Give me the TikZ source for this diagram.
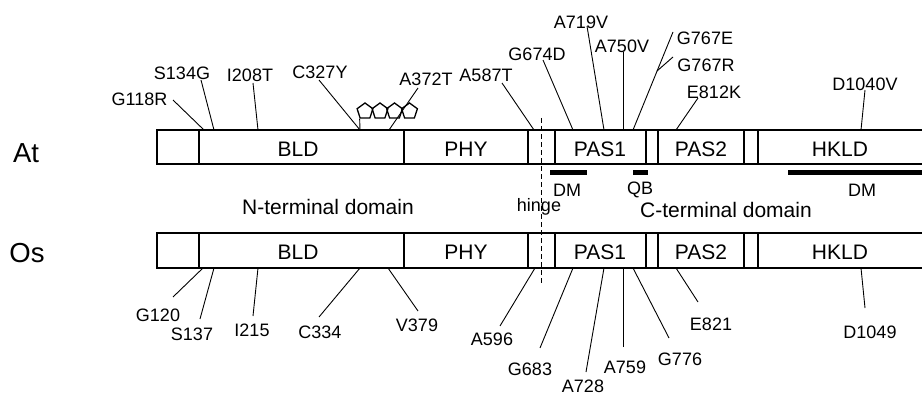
\documentclass[tikz,border=0pt]{standalone}
\usepackage{fontspec}
\setmainfont{Liberation Sans}
\usetikzlibrary{shapes.geometric}
\begin{document}
\begin{tikzpicture}[x=1pt,y=-1pt,
  barline/.style={line width=1.3pt},
  mut/.style={line width=0.9pt},
  lab/.style={font=\fontsize{18}{20}\selectfont, inner sep=0pt},
  dom/.style={font=\fontsize{21}{23}\selectfont, inner sep=0pt},
  sp/.style={font=\fontsize{27.5}{30}\selectfont, inner sep=0pt},
  dmbar/.style={line width=5pt},
  pent/.style={draw, regular polygon, regular polygon sides=5, minimum size=16.6pt, inner sep=0pt, line width=1.3pt}]
\useasboundingbox (0,0) rectangle (922,396);

% bars
\foreach \t/\b in {130/164, 233/268} {
  \draw[barline] (935,\t) -- (157,\t) -- (157,\b) -- (935,\b);
  \foreach \x in {199,404,528,555,646,658,744,758} \draw[barline] (\x,\t) -- (\x,\b);
}

% species
\node[sp] (at) at (26,153) {At};
\node[sp] (os) at (27,253) {Os};

% domain names
\foreach \n/\x/\t in {BLD/298/BLD, PHY/466/PHY, PASa/600/PAS1, PASb/701/PAS2, HKLD/840/HKLD} {
  \node[dom] (at\n) at (\x,149) {\t};
  \node[dom] (os\n) at (\x,252) {\t};
}

% hinge
\coordinate (hingetop) at (541,118);
\coordinate (hingebot) at (541,285);
\draw[line width=0.7pt, dash pattern=on 5pt off 3pt] (hingetop) -- (hingebot);

% DM / QB bars
\coordinate (dm1a) at (550,172.5); \coordinate (dm1b) at (587,172.5);
\coordinate (qba) at (633,172.5); \coordinate (qbb) at (648,172.5);
\coordinate (dm2a) at (788,172.5); \coordinate (dm2b) at (935,172.5);
\draw[dmbar] (dm1a) -- (dm1b);
\draw[dmbar] (qba) -- (qbb);
\draw[dmbar] (dm2a) -- (dm2b);
\node[lab] (dm1) at (567,190) {DM};
\node[lab] (qb) at (640,190) {QB};
\node[lab] (dm2) at (862,190) {DM};

\node[dom] (nterm) at (328,207) {N-terminal domain};
\node[lab, anchor=base] (hinge) at (539,211.5) {hinge};
\node[dom] (cterm) at (726,210) {C-terminal domain};

% pentagons
\foreach \i/\x in {1/365,2/380,3/394.5,4/409.5} \node[pent] (p\i) at (\x,111.3) {};
\coordinate (pstub) at (360,130);
\draw[mut] (p1.corner 3) -- (pstub);

% top mutations
\foreach \n/\t/\lx/\ly/\sx/\sy/\ex/\ey in {
  g118/G118R/139.5/99.5/173/100/204/130,
  s134/S134G/182/73/201/80/214/130,
  i208/I208T/250/75/253/83/258/130,
  c327/C327Y/320/72/319/80/360/130,
  a372/A372T/426/79/418/88/389/130,
  a587/A587T/486/75/502/83/534/130,
  g674/G674D/537/54/543/60/573/130,
  a719/A719V/581/22/587/26/604/130,
  a750/A750V/622/46/623/52/623/130,
  g767e/G767E/705/38/673/32/633/130,
  e812/E812K/714/92/698/98/676/130,
  d1040/D1040V/865/84/865/90/861/130} {
  \node[lab] (\n) at (\lx,\ly) {\t};
  \coordinate (\n s) at (\sx,\sy);
  \coordinate (\n e) at (\ex,\ey);
  \draw[mut] (\n s) -- (\n e);
}
\node[lab] (g767r) at (706,65) {G767R};
\coordinate (g767rs) at (673,57);
\coordinate (g767rj) at (657,71);
\draw[mut] (g767rs) -- (g767rj);

% bottom mutations
\foreach \n/\t/\lx/\ly/\sx/\sy/\ex/\ey in {
  g120/G120/158/315/173/297/203/268,
  s137/S137/192/334/200/319/214/268,
  i215/I215/252/330/253/316/258/268,
  c334/C334/320/332/319/317/360/268,
  v379/V379/417/325/418/311/388/268,
  a596/A596/492/339/500/326/535/268,
  g683/G683/530/369/540/348/573/268,
  a728/A728/583/386/586/372/604/268,
  a759/A759/625/367/623/347/623/268,
  g776/G776/680/359/669/338/633/268,
  e821/E821/711/324/698/302/676/268,
  d1049/D1049/870/332/865/308/861/268} {
  \node[lab] (\n) at (\lx,\ly) {\t};
  \coordinate (\n s) at (\sx,\sy);
  \coordinate (\n e) at (\ex,\ey);
  \draw[mut] (\n s) -- (\n e);
}
\end{tikzpicture}
\end{document}
